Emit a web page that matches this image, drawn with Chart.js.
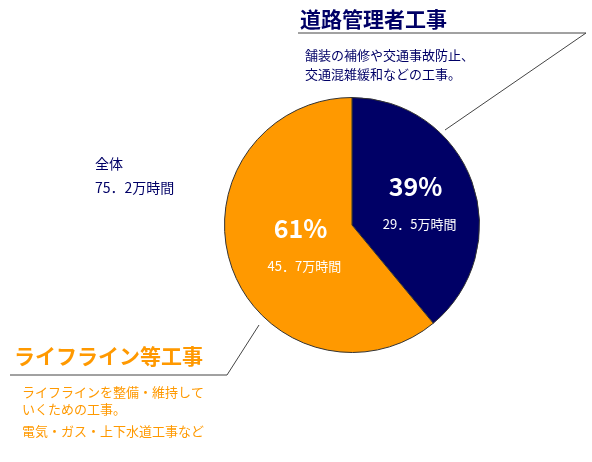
<!DOCTYPE html>
<html><head><meta charset="utf-8">
<script src="https://cdn.jsdelivr.net/npm/chart.js@4"></script>
<style>html,body{margin:0;padding:0;background:#fff}#wrap{width:592px;height:462px}</style>
</head><body><div id="wrap"><canvas id="c"></canvas></div>
<script>
const categories = ['道路管理者工事', 'ライフライン等工事'];
const shares = [39, 61];
const hours = ['29．5万時間', '45．7万時間'];
const total = '75．2万時間';
const navy = '#000066', orange = '#ff9900';
const FONT = "'Noto Sans CJK JP', sans-serif";

const annotations = {
  id: 'annotations',
  afterDraw(chart) {
    const ctx = chart.ctx;
    ctx.save();
    ctx.textBaseline = 'alphabetic';
    const txt = (s, x, y, size, color, bold) => {
      ctx.font = (bold ? 'bold ' : '') + size + 'px ' + FONT;
      ctx.fillStyle = color;
      ctx.fillText(s, x, y);
    };
    // leader lines
    ctx.strokeStyle = '#444';
    ctx.lineWidth = 1;
    ctx.beginPath();
    ctx.moveTo(298, 33); ctx.lineTo(586, 33); ctx.lineTo(445, 130);
    ctx.moveTo(10, 375); ctx.lineTo(227, 375); ctx.lineTo(259, 325);
    ctx.stroke();

    txt(categories[0], 300, 27, 21, navy, true);
    txt('舗装の補修や交通事故防止、', 305, 60, 13, navy);
    txt('交通混雑緩和などの工事。', 305, 79, 13, navy);

    txt('全体', 95, 169, 14, navy);
    txt(total, 95, 193, 14, navy);

    // slice labels from the arc geometry
    const meta = chart.getDatasetMeta(0);
    const pos = [[0.55, -12, 14], [0.55, -12, 14]];
    meta.data.forEach((arc, i) => {
      const mid = (arc.startAngle + arc.endAngle) / 2;
      const r = arc.outerRadius * 0.48;
      const cx = arc.x + Math.cos(mid) * r, cy = arc.y + Math.sin(mid) * r;
      ctx.textAlign = 'center';
      txt(shares[i] + '%', cx + 6, cy - 8, 25, '#fff', true);
      txt(hours[i], cx + 10, cy + 25, 13, '#fff');
    });
    ctx.textAlign = 'left';

    txt(categories[1], 14, 364, 21, orange, true);
    txt('ライフラインを整備・維持して', 22, 397, 13, orange);
    txt('いくための工事。', 22, 414, 13, orange);
    txt('電気・ガス・上下水道工事など', 22, 436, 13, orange);
    ctx.restore();
  }
};

new Chart(document.getElementById('c'), {
  type: 'pie',
  data: {
    labels: categories,
    datasets: [{
      data: shares,
      backgroundColor: [navy, orange],
      borderColor: '#333',
      borderWidth: 1
    }]
  },
  options: {
    responsive: true,
    maintainAspectRatio: false,
    animation: false,
    layout: { padding: { left: 224, right: 112, top: 97, bottom: 109 } },
    plugins: { legend: { display: false }, tooltip: { enabled: false } }
  },
  plugins: [annotations]
});
</script></body></html>
